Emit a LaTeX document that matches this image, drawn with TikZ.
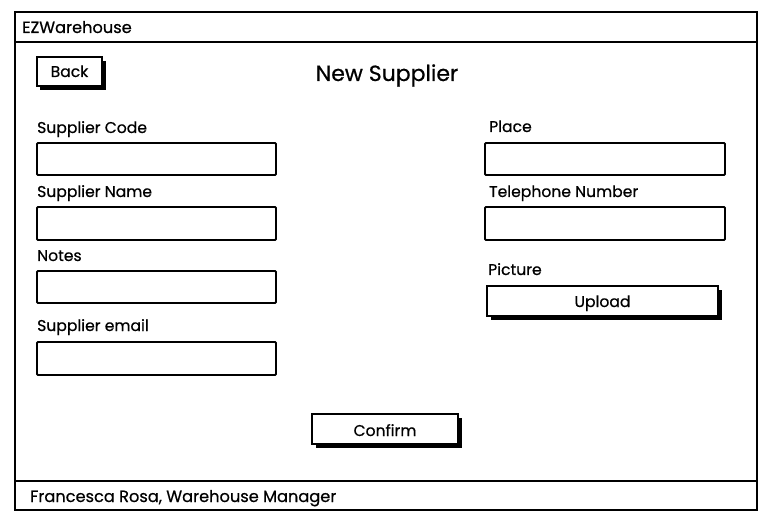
\documentclass[tikz,border=0pt]{standalone}
\usepackage{fontspec}
\setmainfont{Poppins}[FakeBold=0.6]
\begin{document}
\begin{tikzpicture}[x=1pt,y=-1pt,
  frame/.style={draw=black,line width=2.2pt},
  field/.style={draw=black,line width=1.8pt,fill=white,rounded corners=1pt},
  btnshadow/.style={fill=black},
  btn/.style={draw=black,line width=1.6pt,fill=white},
  lbl/.style={anchor=base west,inner sep=0pt,font=\fontsize{15.6}{18}\selectfont},
  barlbl/.style={anchor=base west,inner sep=0pt,font=\fontsize{16.2}{18}\selectfont},
  btntext/.style={anchor=base,inner sep=0pt,font=\fontsize{15.6}{18}\selectfont}]
\useasboundingbox (0,0) rectangle (772,532);
% window frame
\draw[frame] (15,12) rectangle (757,510);
\draw[frame] (15,42) -- (757,42);
\draw[frame] (15,481) -- (757,481);
\node[barlbl] (app) at (22,33) {EZWarehouse};
\node[barlbl] (user) at (30,502) {Francesca Rosa, Warehouse Manager};
% title
\node[anchor=base,inner sep=0pt,font=\fontsize{22}{26}\selectfont] (title) at (387,81) {New Supplier};
% Back button
\fill[btnshadow] (40,61) rectangle (106,90);
\draw[btn] (37,57) rectangle (102,86);
\node[btntext] (back) at (69.5,77) {Back};
% left column
\node[lbl] (l1) at (37,133) {Supplier Code};
\draw[field] (37,143) rectangle (276,175);
\node[lbl] (l2) at (37,197) {Supplier Name};
\draw[field] (37,207) rectangle (276,240);
\node[lbl] (l3) at (37,261) {Notes};
\draw[field] (37,271) rectangle (276,303);
\node[lbl] (l4) at (37,331) {Supplier email};
\draw[field] (37,342) rectangle (276,375);
% right column
\node[lbl] (r1) at (489,132) {Place};
\draw[field] (485,143) rectangle (725,175);
\node[lbl] (r2) at (489,197) {Telephone Number};
\draw[field] (485,207) rectangle (725,240);
\node[lbl] (r3) at (488,275) {Picture};
\fill[btnshadow] (491,290) rectangle (722,320);
\draw[btn] (487,286) rectangle (718,316);
\node[btntext] (upload) at (602.5,307) {Upload};
% Confirm button
\fill[btnshadow] (316,418) rectangle (462,448);
\draw[btn] (312,414) rectangle (458,444);
\node[btntext] (confirm) at (385,436) {Confirm};
\end{tikzpicture}
\end{document}
